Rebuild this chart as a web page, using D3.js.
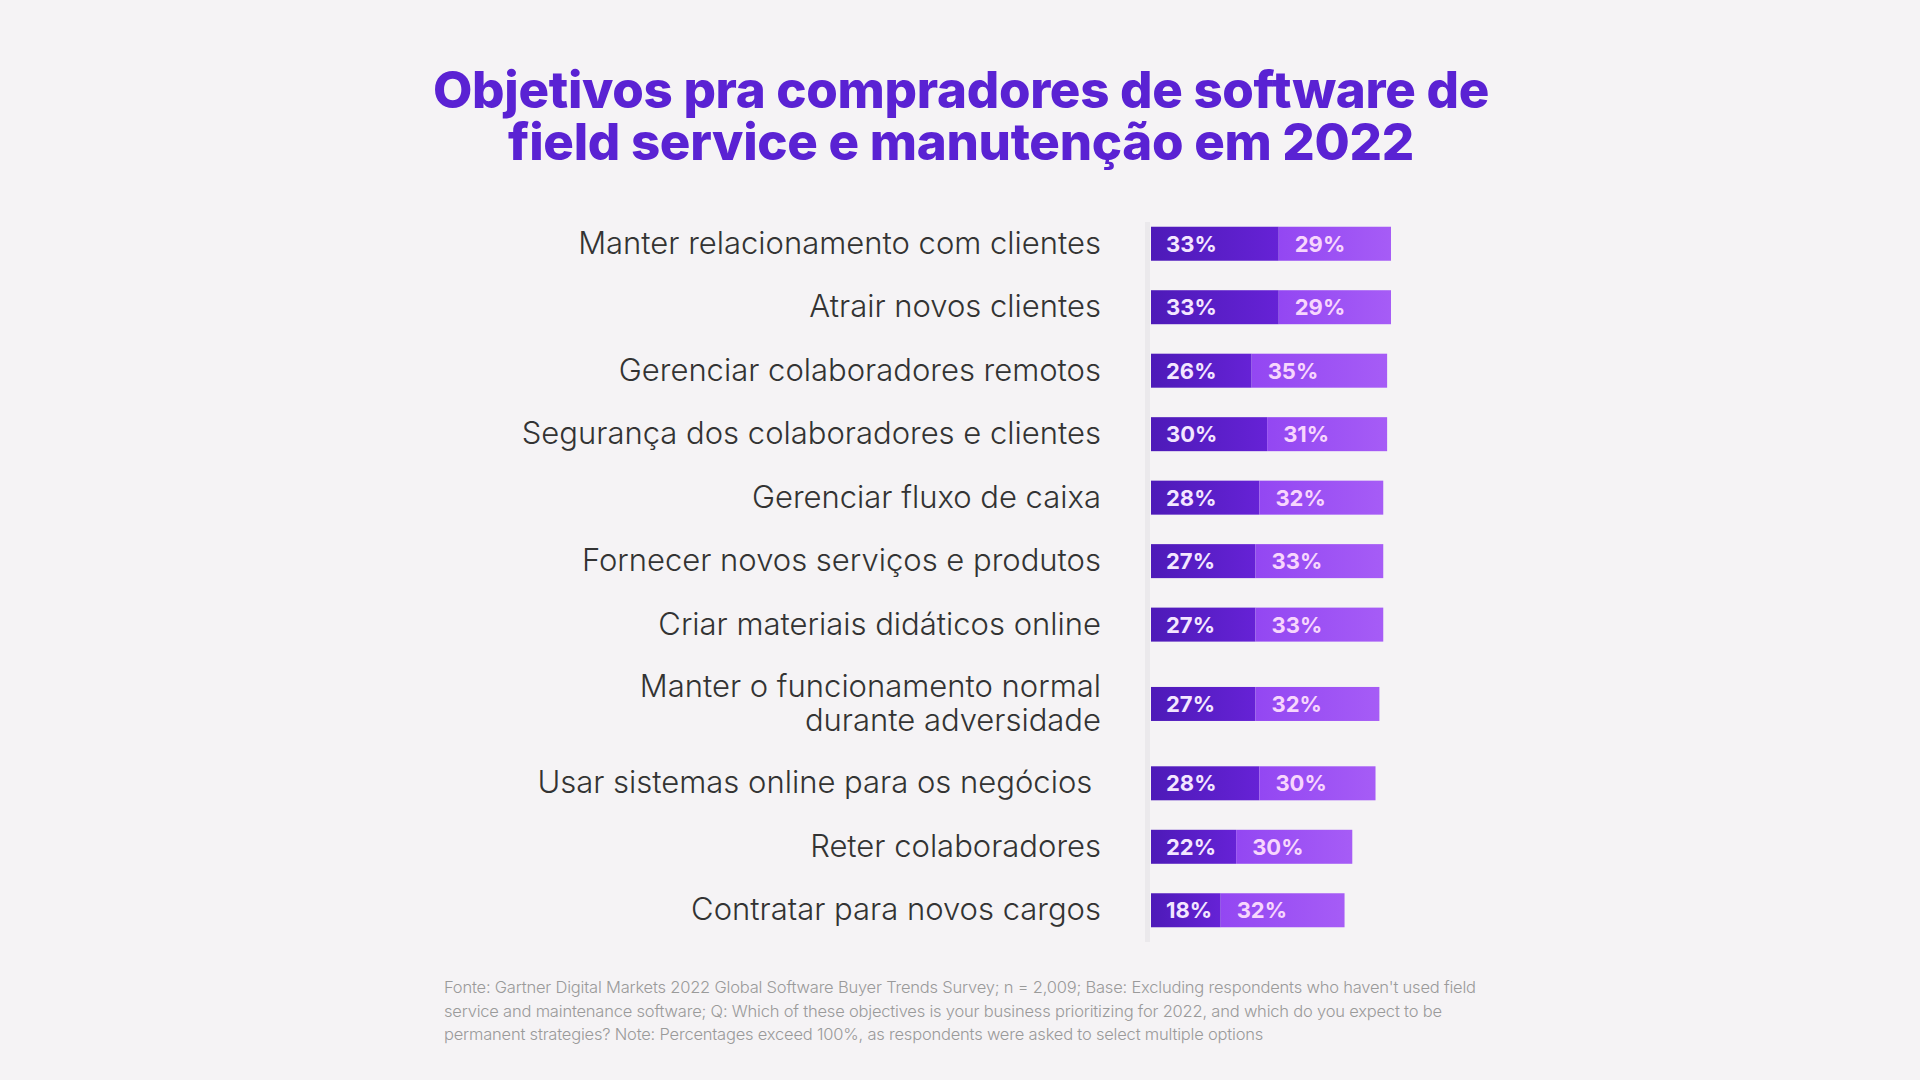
<!DOCTYPE html>
<html>
<head>
<meta charset="utf-8">
<script src="https://cdn.jsdelivr.net/npm/d3@7"></script>
<style>
  html, body { margin: 0; padding: 0; background: #f5f3f5; }
  svg { display: block; }
  text { font-family: Inter, "Noto Sans", sans-serif; }
</style>
</head>
<body>
<svg id="chart" width="1920" height="1080"></svg>
<script>
// ---- data ----
const titleLines = ["Objetivos pra compradores de software de", "field service e manutenção em 2022"];
const categories = [
  ["Manter relacionamento com clientes"],
  ["Atrair novos clientes"],
  ["Gerenciar colaboradores remotos"],
  ["Segurança dos colaboradores e clientes"],
  ["Gerenciar fluxo de caixa"],
  ["Fornecer novos serviços e produtos"],
  ["Criar materiais didáticos online"],
  ["Manter o funcionamento normal", "durante adversidade"],
  ["Usar sistemas online para os negócios "],
  ["Reter colaboradores"],
  ["Contratar para novos cargos"]
];
const prioritized2022 = [33, 33, 26, 30, 28, 27, 27, 27, 28, 22, 18];
const permanent = [29, 29, 35, 31, 32, 33, 33, 32, 30, 30, 32];
const footnoteLines = [
  "Fonte: Gartner Digital Markets 2022 Global Software Buyer Trends Survey; n = 2,009; Base: Excluding respondents who haven't used field",
  "service and maintenance software; Q: Which of these objectives is your business prioritizing for 2022, and which do you expect to be",
  "permanent strategies? Note: Percentages exceed 100%, as respondents were asked to select multiple options"
];

// ---- layout ----
const svg = d3.select("#chart");
const defs = svg.append("defs");
const gDark = defs.append("linearGradient").attr("id", "gDark").attr("x1", "0%").attr("x2", "100%");
gDark.append("stop").attr("offset", "0%").attr("stop-color", "#4d1ab8");
gDark.append("stop").attr("offset", "100%").attr("stop-color", "#6622d6");
const gLight = defs.append("linearGradient").attr("id", "gLight").attr("x1", "0%").attr("x2", "100%");
gLight.append("stop").attr("offset", "0%").attr("stop-color", "#9347f2");
gLight.append("stop").attr("offset", "100%").attr("stop-color", "#a65cf6");

// row weights: two-line labels get more room
const weights = categories.map(c => c.length > 1 ? 1.5 : 1);
const cum = [];
weights.reduce((acc, w, i) => { cum[i] = acc + w / 2; return acc + w; }, 0);
const totalW = d3.sum(weights);
const y = d3.scaleLinear().domain([0, totalW]).range([212, 942]);
const x = d3.scaleLinear().domain([0, 62]).range([1151, 1391]);
const barH = 34;

// title (one text element, two lines)
const title = svg.append("text")
  .attr("text-anchor", "middle")
  .attr("font-size", 51).attr("font-weight", 800)
  .attr("fill", "#5a22d3")
  .attr("letter-spacing", "-0.3");
title.selectAll("tspan").data(titleLines).join("tspan")
  .attr("x", 961).attr("y", (d, i) => 108 + i * 52)
  .text(d => d);

// faint vertical guide
svg.append("rect")
  .attr("x", x(0) - 6).attr("width", 5)
  .attr("y", y(0) + 10).attr("height", y(totalW) - y(0) - 10)
  .attr("fill", "#ebe9ec");

const rows = svg.append("g").selectAll("g").data(categories).join("g")
  .attr("transform", (d, i) => `translate(0,${y(cum[i])})`);

// labels
rows.each(function(lines, i) {
  const g = d3.select(this);
  const n = lines.length;
  g.selectAll("text.lab").data(lines).join("text")
    .attr("class", "lab")
    .attr("x", 1101)
    .attr("y", (d, j) => (j - (n - 1) / 2) * 34 + 10)
    .attr("text-anchor", "end")
    .attr("font-size", 31).attr("font-weight", 300)
    .attr("fill", "#333333")
    .style("white-space", "pre")
    .text(d => d);
});

// bars
rows.append("rect")
  .attr("x", x(0)).attr("y", -barH / 2)
  .attr("width", (d, i) => x(prioritized2022[i]) - x(0))
  .attr("height", barH)
  .attr("fill", "url(#gDark)");
rows.append("rect")
  .attr("x", (d, i) => x(prioritized2022[i]))
  .attr("y", -barH / 2)
  .attr("width", (d, i) => x(prioritized2022[i] + permanent[i]) - x(prioritized2022[i]))
  .attr("height", barH)
  .attr("fill", "url(#gLight)");

// value labels
rows.append("text")
  .attr("x", x(0) + 15).attr("y", 8)
  .attr("font-size", 22).attr("font-weight", 700)
  .attr("fill", "#f3e6ff")
  .text((d, i) => prioritized2022[i] + "%");
rows.append("text")
  .attr("x", (d, i) => x(prioritized2022[i]) + 16).attr("y", 8)
  .attr("font-size", 22).attr("font-weight", 700)
  .attr("fill", "#f7d6fd")
  .text((d, i) => permanent[i] + "%");

// footnote
svg.append("g").selectAll("text").data(footnoteLines).join("text")
  .attr("x", 444).attr("y", (d, i) => 993 + i * 23.5)
  .attr("font-size", 16.5).attr("font-weight", 300)
  .attr("fill", "#9a9a9a")
  .attr("letter-spacing", "-0.2")
  .text(d => d);
</script>
</body>
</html>
